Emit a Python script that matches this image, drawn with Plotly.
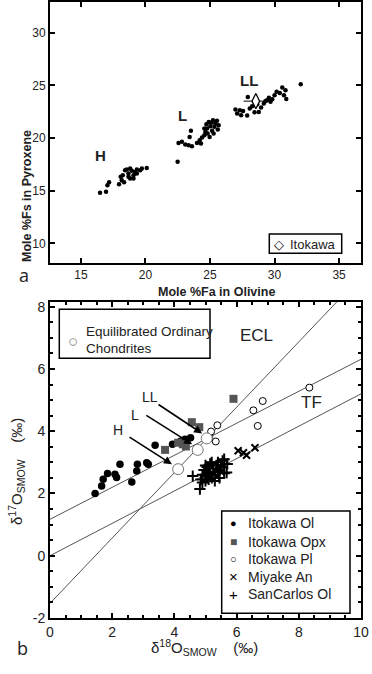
import plotly.graph_objects as go

# ---------------- Panel a data ----------------
H_FA = [16.48,16.94,17.05,17.18,17.95,18.16,18.24,18.42,18.55,18.68,18.81,18.94,19.07,19.20,19.33,19.59,19.72,20.10,18.34,18.68,18.08,19.07,19.33,18.81]
H_FS = [14.80,14.90,15.53,15.81,15.62,16.00,16.48,16.95,17.01,16.64,16.16,16.89,16.48,16.79,16.64,16.95,17.11,17.17,15.81,16.32,16.32,16.16,17.01,17.11]
L_FA = [22.49,22.56,22.82,23.08,23.34,23.60,23.52,23.42,23.99,24.20,24.30,24.38,24.56,24.64,24.77,24.82,24.97,25.03,25.10,25.16,25.28,25.34,25.41,25.54,25.60,25.67,24.90,24.56,25.23,24.72]
L_FS = [17.74,19.54,19.64,19.38,19.32,19.23,20.68,20.11,19.54,19.79,19.48,20.05,20.27,20.58,20.90,20.43,20.11,21.12,21.44,20.68,20.43,21.06,21.37,21.63,20.81,21.22,21.53,20.90,21.69,21.31]
LL_FA = [26.97,27.10,27.31,27.41,27.56,27.88,27.93,28.08,28.26,28.45,28.65,28.78,28.96,29.17,29.30,29.43,29.56,29.69,29.82,30.00,30.16,30.41,30.60,30.73,30.85,30.91,32.03]
LL_FS = [22.70,22.32,22.64,22.16,22.57,22.13,23.90,22.80,23.02,22.45,23.21,22.48,22.89,23.27,23.52,23.59,23.81,23.43,23.68,24.06,24.38,24.28,24.79,24.06,24.53,23.71,25.10]
ITO_FA = [28.55]
ITO_FS = [23.50]
ITO_FA_ERR = [0.95]
ITO_FS_ERR = [0.2]
GROUP_LABELS = ["H", "L", "LL"]
GROUP_LABEL_FA = [16.48, 22.83, 28.0]
GROUP_LABEL_FS = [18.37, 22.16, 25.48]
A_XTICKS = [15, 20, 25, 30, 35]
A_YTICKS = [10, 15, 20, 25, 30]

# ---------------- Panel b data ----------------
OL_X = [1.45,1.66,1.71,1.85,2.09,2.14,2.25,2.63,2.79,2.81,3.11,3.16,3.38,3.94,4.20,4.34,4.52]
OL_Y = [2.00,2.24,2.46,2.64,2.62,2.51,2.94,2.37,2.72,2.94,2.99,2.94,3.55,3.58,3.68,3.74,3.79]
OPX_X = [3.70,4.12,4.27,4.37,4.56,4.80,5.12,5.90]
OPX_Y = [3.40,3.63,3.58,3.51,4.29,4.13,3.79,5.04]
PL_X = [5.18,5.38,5.33,6.54,6.84,6.68,8.34]
PL_Y = [3.99,4.19,3.67,4.67,4.97,4.17,5.40]
MIY_X = [6.05,6.22,6.32,6.59,5.05,5.20,5.30,5.40,5.50,5.10,5.25,5.35,5.60]
MIY_Y = [3.37,3.31,3.23,3.47,2.65,2.85,2.75,2.85,2.70,2.75,2.60,2.55,2.90]
SC_X = [4.59,4.82,4.85,4.90,4.95,5.00,5.05,5.10,5.15,5.20,5.25,5.30,5.35,5.40,5.45,5.50,5.55,5.60,5.68,5.60,5.00,5.20,4.90,5.30,5.10,5.40,5.70,5.45,5.15,5.00]
SC_Y = [2.56,2.14,2.45,2.60,2.75,2.55,2.85,2.65,2.95,2.50,2.80,2.60,2.90,2.70,2.50,2.85,3.05,2.65,2.67,3.10,2.90,3.00,2.35,2.40,2.45,3.00,2.95,2.75,2.70,2.40]
OC_X = [4.12, 4.75, 5.04]
OC_Y = [2.78, 3.40, 3.77]
OC_NAMES = ["H", "L", "LL"]
OC_ARROW_TAIL_X = [2.51, 3.05, 3.44]
OC_ARROW_TAIL_Y = [3.84, 4.54, 4.89]
OC_ARROW_HEAD_X = [3.92, 4.57, 4.89]
OC_ARROW_HEAD_Y = [2.94, 3.58, 3.93]
OC_LABEL_X = [2.19, 2.73, 3.22]
OC_LABEL_Y = [4.03, 4.51, 5.09]
LINE_X = [0, 10]
TF_LINE = (0.0, 0.52)        # intercept, slope
OC_LINE = (1.17, 0.514)
ECL_LINE = (-1.53, 1.05)
B_XTICKS = [0, 2, 4, 6, 8, 10]
B_YTICKS = [-2, 0, 2, 4, 6, 8]
B_YTICKTEXT = ["-2", "0", "2", "4", "6", "8"]

FONT = "Liberation Sans, Arial, sans-serif"
INK = "#222"

fig = go.Figure()

# ---- panel a ----
for xs, ys in [(H_FA, H_FS), (L_FA, L_FS), (LL_FA, LL_FS)]:
    fig.add_trace(go.Scatter(x=xs, y=ys, mode="markers", xaxis="x", yaxis="y",
                             marker=dict(size=4.5, color="black"), showlegend=False))
fig.add_trace(go.Scatter(x=ITO_FA, y=ITO_FS, mode="markers", xaxis="x", yaxis="y",
                         error_x=dict(type="data", array=ITO_FA_ERR, color="black", thickness=1, width=0),
                         error_y=dict(type="data", array=ITO_FS_ERR, color="black", thickness=1, width=0),
                         marker=dict(symbol="diamond-tall", size=11, color="white", line=dict(color="black", width=1.3)),
                         showlegend=False))

# ---- panel b ----
def line_y(p):
    return [p[0] + p[1] * x for x in LINE_X]

for p in (ECL_LINE, OC_LINE, TF_LINE):
    fig.add_trace(go.Scatter(x=LINE_X, y=line_y(p), mode="lines", xaxis="x2", yaxis="y2",
                             line=dict(color="#555", width=1), showlegend=False))

fig.add_trace(go.Scatter(x=SC_X, y=SC_Y, mode="markers", xaxis="x2", yaxis="y2",
                         marker=dict(symbol="cross-thin", size=8, line=dict(color="black", width=2)), showlegend=False))
fig.add_trace(go.Scatter(x=MIY_X, y=MIY_Y, mode="markers", xaxis="x2", yaxis="y2",
                         marker=dict(symbol="x-thin", size=7, line=dict(color="black", width=2)), showlegend=False))
fig.add_trace(go.Scatter(x=OL_X, y=OL_Y, mode="markers", xaxis="x2", yaxis="y2",
                         marker=dict(size=7.5, color="black"), showlegend=False))
fig.add_trace(go.Scatter(x=OPX_X, y=OPX_Y, mode="markers", xaxis="x2", yaxis="y2",
                         marker=dict(symbol="square", size=8, color="#555"), showlegend=False))
fig.add_trace(go.Scatter(x=PL_X, y=PL_Y, mode="markers", xaxis="x2", yaxis="y2",
                         marker=dict(size=7, color="white", line=dict(color="black", width=1)), showlegend=False))
fig.add_trace(go.Scatter(x=OC_X, y=OC_Y, mode="markers", xaxis="x2", yaxis="y2",
                         marker=dict(size=11, color="white", line=dict(color="#777", width=1)), showlegend=False))

def P(px, py):
    return px / 372.0, 1 - py / 674.0

ann = []
shapes = []

# group labels in panel a
for t, x, y in zip(GROUP_LABELS, GROUP_LABEL_FA, GROUP_LABEL_FS):
    ann.append(dict(x=x, y=y, xref="x", yref="y", text=f"<b>{t}</b>", showarrow=False,
                    font=dict(size=15, family=FONT, color=INK)))

# arrows and labels in panel b
for t, tx, ty, hx, hy, lx, ly in zip(OC_NAMES, OC_ARROW_TAIL_X, OC_ARROW_TAIL_Y, OC_ARROW_HEAD_X,
                                     OC_ARROW_HEAD_Y, OC_LABEL_X, OC_LABEL_Y):
    ann.append(dict(x=hx, y=hy, xref="x2", yref="y2", ax=tx, ay=ty, axref="x2", ayref="y2",
                    text="", showarrow=True, arrowhead=2, arrowsize=1, arrowwidth=1.6, arrowcolor="black"))
    ann.append(dict(x=lx, y=ly, xref="x2", yref="y2", text=t, showarrow=False,
                    font=dict(size=14, family=FONT, color=INK)))

# line labels
for t, px, py in [("ECL", 275, 335), ("TF", 324, 402)]:
    x, y = P(px, py)
    ann.append(dict(x=x, y=y, xref="paper", yref="paper", text=t, showarrow=False,
                    font=dict(size=17, family=FONT, color=INK)))

# axis titles
x, y = P(216.7, 291.7)
ann.append(dict(x=x, y=y, xref="paper", yref="paper", text="<b>Mole %Fa in Olivine</b>", showarrow=False,
                font=dict(size=12.5, family=FONT, color=INK)))
x, y = P(18, 128)
ann.append(dict(x=x, y=y, xref="paper", yref="paper", text="<b>Mole %Fs in Pyroxene</b>", showarrow=False,
                textangle=-90, font=dict(size=12.5, family=FONT, color=INK)))
x, y = P(205, 660)
ann.append(dict(x=x, y=y, xref="paper", yref="paper",
                text="δ<sup>18</sup>O<sub>SMOW</sub>\u00a0\u00a0\u00a0\u00a0(‰)", showarrow=False,
                font=dict(size=15, family=FONT, color=INK)))
x, y = P(4, 527)
ann.append(dict(x=x, y=y, xref="paper", yref="paper",
                text="δ<sup>17</sup>O<sub>SMOW</sub>\u00a0\u00a0\u00a0\u00a0(‰)", showarrow=False,
                textangle=-90, font=dict(size=15, family=FONT, color=INK)))

# panel letters
for t, px, py in [("a", 17, 275), ("b", 15, 662)]:
    x, y = P(px, py)
    ann.append(dict(x=x, y=y, xref="paper", yref="paper", text=t, showarrow=False,
                    font=dict(size=18, family="Open Sans, sans-serif", color=INK)))

# legend boxes
def box(px0, py0, px1, py1):
    x0, y0 = P(px0, py0)
    x1, y1 = P(px1, py1)
    shapes.append(dict(type="rect", xref="paper", yref="paper", x0=x0, y0=y1, x1=x1, y1=y0,
                       line=dict(color="black", width=1.5), fillcolor="white", layer="above"))

box(269.3, 234, 341.7, 253.3)
box(59.3, 309.3, 210, 358.3)
box(221.7, 511, 350, 613.3)

def legtext(px, py, t, size=13, color=INK, anchor="left"):
    x, y = P(px, py)
    ann.append(dict(x=x, y=y, xref="paper", yref="paper", text=t, showarrow=False, xanchor=anchor,
                    yanchor="middle", font=dict(size=size, family=FONT, color=color)))

legtext(279.3, 244.3, "◇", size=13, color="black", anchor="center")
legtext(287.5, 244.3, "Itokawa", size=13)

legtext(72.7, 341.7, "○", size=17, color="#888", anchor="center")
legtext(84, 331.0, "Equilibrated Ordinary", size=13.5)
legtext(84, 348.3, "Chondrites", size=13.5)

LEG = [("●", "black", 11, "Itokawa Ol"), ("■", "#555", 12, "Itokawa Opx"), ("○", "black", 11, "Itokawa Pl"),
       ("×", "black", 15, "Miyake An"), ("+", "black", 15, "SanCarlos Ol")]
for (sym, col, ss, name), py in zip(LEG, [522.7, 541.7, 559.3, 576.7, 594.3]):
    legtext(233, py, sym, size=ss, color=col, anchor="center")
    legtext(245.5, py, name, size=14)

axis_common = dict(showline=True, linecolor="black", linewidth=2, mirror="ticks", ticks="inside",
                   ticklen=5, tickwidth=1.5, tickcolor="black", showgrid=False, zeroline=False,
                   automargin=False, tickfont=dict(size=12, family=FONT, color=INK))
big_ticks = dict(size=14, family=FONT, color=INK)
minor = dict(dtick=0.5, ticks="inside", ticklen=3, tickwidth=1.5, tickcolor="black")

fig.update_layout(
    width=372, height=674, margin=dict(l=0, r=0, t=0, b=0, autoexpand=False),
    paper_bgcolor="white", plot_bgcolor="white", showlegend=False,
    xaxis=dict(domain=[50/372, 361/372], range=[12.6, 36.7], tickvals=A_XTICKS, anchor="y", **axis_common),
    yaxis=dict(domain=[1-263/674, 1-2/674], range=[8.15, 32.9], tickvals=A_YTICKS, anchor="x", **axis_common),
    xaxis2=dict(domain=[50/372, 361/372], range=[0, 10], tickvals=B_XTICKS, anchor="y2", minor=minor,
                **{**axis_common, "tickfont": big_ticks}),
    yaxis2=dict(domain=[1-618/674, 1-302/674], range=[-2, 8.15], tickvals=B_YTICKS, ticktext=B_YTICKTEXT,
                anchor="x2", minor=minor, **{**axis_common, "tickfont": big_ticks}),
    annotations=ann, shapes=shapes,
)

# the page body has a default 8px margin; remove it so the 372x674 figure fills the window
fig.write_html("out.html", config={"displayModeBar": False},
               post_script="document.body.style.margin='0';document.body.style.overflow='hidden';")
